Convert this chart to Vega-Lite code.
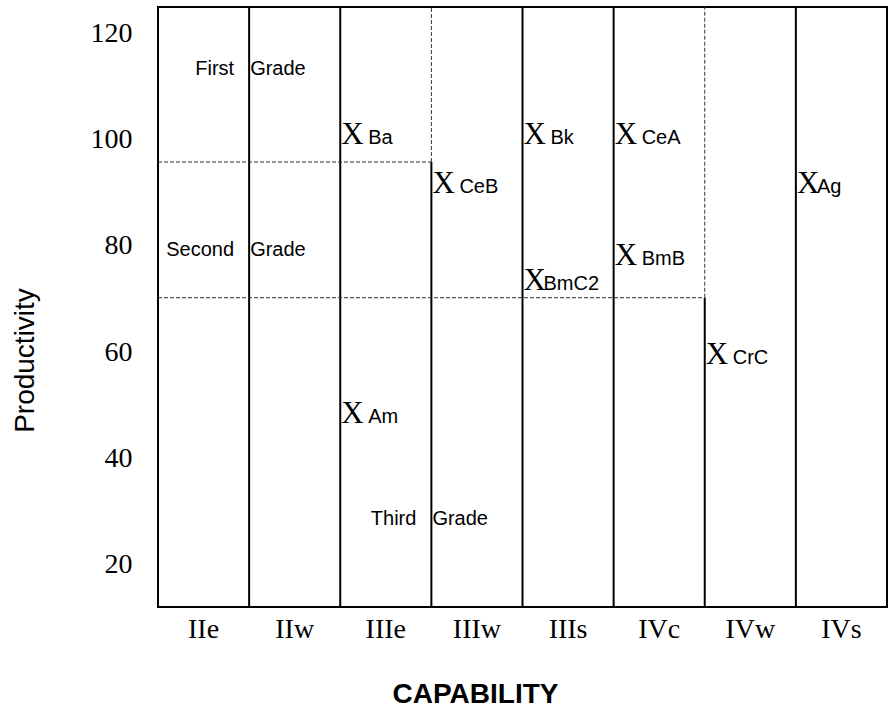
{
  "$schema": "https://vega.github.io/schema/vega-lite/v6.json",
  "width": 729,
  "height": 600,
  "autosize": {"type": "none"},
  "padding": {"left": 158, "top": 7, "right": 1, "bottom": 102},
  "background": "white",
  "config": {
    "view": {"stroke": "black", "strokeWidth": 2},
    "axis": {"grid": false, "domain": false, "ticks": false, "tickSize": 0, "labelColor": "black", "titleColor": "black"},
    "axisX": {"labelFont": "Liberation Serif", "labelFontSize": 28, "labelPadding": 8, "labelAngle": 0, "titleFont": "Liberation Sans", "titleFontSize": 28, "titleFontWeight": "bold", "titleX": 317, "titleY": 95, "titleBaseline": "alphabetic", "titleAlign": "center"},
    "axisY": {"labelFont": "Liberation Serif", "labelFontSize": 28, "labelPadding": 26, "titleFont": "Liberation Sans", "titleFontSize": 28, "titleFontWeight": "normal", "titleAngle": 270, "titleX": -125, "titleY": 353, "titleBaseline": "alphabetic", "titleAlign": "center"}
  },
  "datasets": {
    "points": [
      {"cls": "IIIe", "soil": "Ba", "p": 100.9},
      {"cls": "IIIe", "soil": "Am", "p": 48.4},
      {"cls": "IIIw", "soil": "CeB", "p": 91.7},
      {"cls": "IIIs", "soil": "Bk", "p": 100.9},
      {"cls": "IIIs", "soil": "BmC2", "p": 73.4},
      {"cls": "IVc", "soil": "CeA", "p": 100.9},
      {"cls": "IVc", "soil": "BmB", "p": 78.1},
      {"cls": "IVw", "soil": "CrC", "p": 59.5},
      {"cls": "IVs", "soil": "Ag", "p": 91.7}
    ],
    "grades": [
      {"cls": "IIw", "name1": "First", "name2": "Grade", "p": 113.3},
      {"cls": "IIw", "name1": "Second", "name2": "Grade", "p": 79.3},
      {"cls": "IIIw", "name1": "Third", "name2": "Grade", "p": 28.6}
    ]
  },
  "layer": [
    {
      "data": {"values": [
        {"cls": "IIw", "p": 12, "p2": 125},
        {"cls": "IIIe", "p": 12, "p2": 125},
        {"cls": "IIIw", "p": 12, "p2": 95.8},
        {"cls": "IIIs", "p": 12, "p2": 125},
        {"cls": "IVc", "p": 12, "p2": 125},
        {"cls": "IVw", "p": 12, "p2": 70.25},
        {"cls": "IVs", "p": 12, "p2": 125}
      ]},
      "mark": {"type": "rule", "color": "black", "strokeWidth": 2},
      "encoding": {
        "x": {"field": "cls", "type": "nominal", "bandPosition": 0, "title": "CAPABILITY",
              "scale": {"type": "band", "domain": ["IIe", "IIw", "IIIe", "IIIw", "IIIs", "IVc", "IVw", "IVs"], "paddingInner": 0, "paddingOuter": 0}},
        "y": {"field": "p", "type": "quantitative", "title": "Productivity",
              "scale": {"domain": [12, 125], "nice": false, "zero": false},
              "axis": {"values": [20, 40, 60, 80, 100, 120]}},
        "y2": {"field": "p2"}
      }
    },
    {
      "data": {"values": [
        {"cls": "IIIw", "to": "IIIw", "p": 95.8, "p2": 125},
        {"cls": "IVw", "to": "IVw", "p": 70.25, "p2": 125},
        {"cls": "IIe", "to": "IIIw", "p": 95.8, "p2": 95.8},
        {"cls": "IIe", "to": "IVw", "p": 70.25, "p2": 70.25}
      ]},
      "mark": {"type": "rule", "color": "#333333", "strokeWidth": 1, "strokeDash": [4, 2]},
      "encoding": {
        "x": {"field": "cls", "type": "nominal", "bandPosition": 0, "title": "CAPABILITY",
              "scale": {"type": "band", "domain": ["IIe", "IIw", "IIIe", "IIIw", "IIIs", "IVc", "IVw", "IVs"], "paddingInner": 0, "paddingOuter": 0}},
        "x2": {"field": "to", "bandPosition": 0},
        "y": {"field": "p", "type": "quantitative", "title": "Productivity"},
        "y2": {"field": "p2"}
      }
    },
    {
      "data": {"name": "points"},
      "mark": {"type": "text", "text": "X", "font": "Liberation Serif", "fontSize": 31, "align": "left", "baseline": "middle", "dx": 1, "color": "black"},
      "encoding": {
        "x": {"field": "cls", "type": "nominal", "bandPosition": 0, "title": "CAPABILITY",
              "scale": {"type": "band", "domain": ["IIe", "IIw", "IIIe", "IIIw", "IIIs", "IVc", "IVw", "IVs"], "paddingInner": 0, "paddingOuter": 0}},
        "y": {"field": "p", "type": "quantitative", "title": "Productivity"}
      }
    },
    {
      "data": {"name": "points"},
      "transform": [{"filter": {"not": {"field": "soil", "oneOf": ["Ag", "BmC2"]}}}],
      "mark": {"type": "text", "font": "Liberation Sans", "fontSize": 20, "align": "left", "baseline": "middle", "dx": 28, "dy": 3, "color": "black"},
      "encoding": {
        "x": {"field": "cls", "type": "nominal", "bandPosition": 0, "title": "CAPABILITY",
              "scale": {"type": "band", "domain": ["IIe", "IIw", "IIIe", "IIIw", "IIIs", "IVc", "IVw", "IVs"], "paddingInner": 0, "paddingOuter": 0}},
        "y": {"field": "p", "type": "quantitative", "title": "Productivity"},
        "text": {"field": "soil"}
      }
    },
    {
      "data": {"name": "points"},
      "transform": [{"filter": {"field": "soil", "oneOf": ["Ag", "BmC2"]}}],
      "mark": {"type": "text", "font": "Liberation Sans", "fontSize": 20, "align": "left", "baseline": "middle", "dx": 21, "dy": 3, "color": "black"},
      "encoding": {
        "x": {"field": "cls", "type": "nominal", "bandPosition": 0, "title": "CAPABILITY",
              "scale": {"type": "band", "domain": ["IIe", "IIw", "IIIe", "IIIw", "IIIs", "IVc", "IVw", "IVs"], "paddingInner": 0, "paddingOuter": 0}},
        "y": {"field": "p", "type": "quantitative", "title": "Productivity"},
        "text": {"field": "soil"}
      }
    },
    {
      "data": {"name": "grades"},
      "mark": {"type": "text", "font": "Liberation Sans", "fontSize": 20, "align": "right", "baseline": "middle", "dx": -15, "color": "black"},
      "encoding": {
        "x": {"field": "cls", "type": "nominal", "bandPosition": 0, "title": "CAPABILITY",
              "scale": {"type": "band", "domain": ["IIe", "IIw", "IIIe", "IIIw", "IIIs", "IVc", "IVw", "IVs"], "paddingInner": 0, "paddingOuter": 0}},
        "y": {"field": "p", "type": "quantitative", "title": "Productivity"},
        "text": {"field": "name1"}
      }
    },
    {
      "data": {"name": "grades"},
      "mark": {"type": "text", "font": "Liberation Sans", "fontSize": 20, "align": "left", "baseline": "middle", "dx": 1, "color": "black"},
      "encoding": {
        "x": {"field": "cls", "type": "nominal", "bandPosition": 0, "title": "CAPABILITY",
              "scale": {"type": "band", "domain": ["IIe", "IIw", "IIIe", "IIIw", "IIIs", "IVc", "IVw", "IVs"], "paddingInner": 0, "paddingOuter": 0}},
        "y": {"field": "p", "type": "quantitative", "title": "Productivity"},
        "text": {"field": "name2"}
      }
    }
  ]
}
